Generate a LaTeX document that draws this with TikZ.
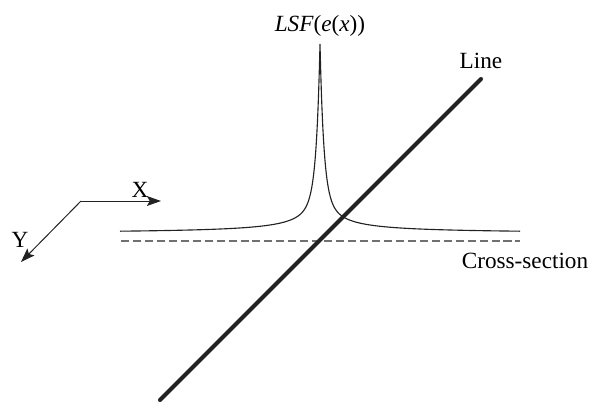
\documentclass[tikz,border=0pt]{standalone}
\usepackage{fontspec}
\setmainfont{Liberation Serif}
\usepackage{tikz}
\usetikzlibrary{arrows.meta, positioning}
\definecolor{darkgray}{HTML}{222222}
\definecolor{midgray}{HTML}{707070}
\tikzset{
  axis/.style={-{Stealth[length=10pt, width=7pt, inset=2pt]}, line width=0.7pt, color=darkgray},
  profile/.style={line width=0.8pt, color=darkgray},
  section/.style={line width=1.1pt, color=midgray, dash pattern=on 5.7pt off 2.8pt},
  edgeline/.style={line width=2.9pt, color=darkgray, line cap=round},
  lbl/.style={inner sep=0pt, font=\fontsize{16.5}{19}\selectfont},
}

\begin{document}
\begin{tikzpicture}[x=0.025cm, y=-0.025cm]
  \useasboundingbox (0,0) rectangle (592,403);

  % Axes
  \coordinate (origin) at (81,201);
  \coordinate (xtip) at (161,201);
  \coordinate (ytip) at (21,262);
  \draw[axis] (origin) -- (xtip);
  \draw[axis] (origin) -- (ytip);
  \node[lbl] (xlabel) at (140,190) {X};
  \node[lbl] (ylabel) at (20,240) {Y};

  % Cross-section
  \coordinate (csleft) at (121,241);
  \coordinate (csright) at (520,241);
  \draw[section] (csleft) -- (csright);
  \node[lbl] (cslabel) at (525,261) {Cross-section};

  % Line spread function
  \coordinate (peak) at (320,42);
  \draw[profile] plot[domain=-200:200, samples=801]
    ({320+\x}, {233.5-107.5*exp(-abs(\x)/3.8)-82/(1+abs(\x)/5.8)});
  \node[lbl, above=4pt of peak] (lsf) {\textit{LSF}(\textit{e}(\textit{x}))};

  % Line
  \coordinate (linebot) at (160,400);
  \coordinate (linetop) at (481,79);
  \draw[edgeline] (linebot) -- (linetop);
  \node[lbl, above=7pt of linetop] (linelabel) {Line};

\end{tikzpicture}
\end{document}
